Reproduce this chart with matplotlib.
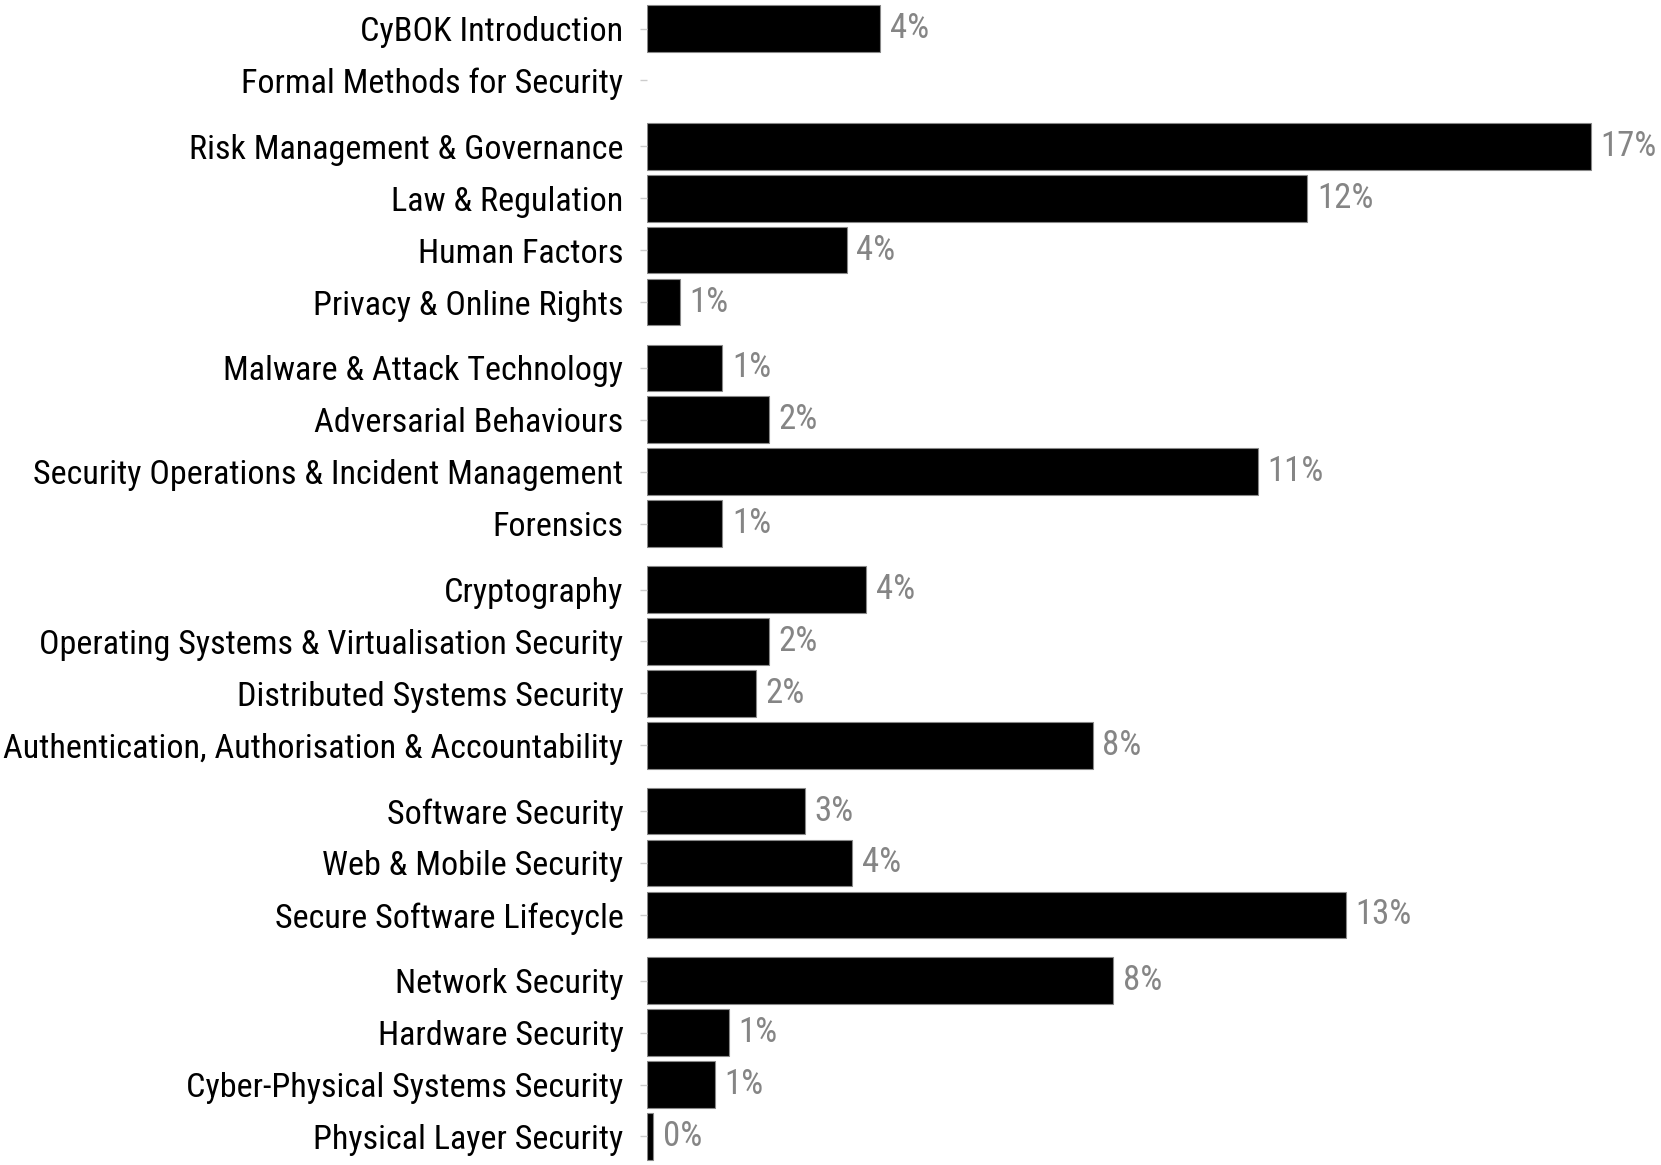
import numpy as np
import matplotlib
matplotlib.use("Agg")
import matplotlib.pyplot as plt

categories = ["CyBOK Introduction", "Formal Methods for Security",
              "Risk Management & Governance", "Law & Regulation", "Human Factors",
              "Privacy & Online Rights",
              "Malware & Attack Technology", "Adversarial Behaviours",
              "Security Operations & Incident Management", "Forensics",
              "Cryptography", "Operating Systems & Virtualisation Security",
              "Distributed Systems Security",
              "Authentication, Authorisation & Accountability",
              "Software Security", "Web & Mobile Security", "Secure Software Lifecycle",
              "Network Security", "Hardware Security", "Cyber-Physical Systems Security",
              "Physical Layer Security"]
groups = [0, 0, 1, 1, 1, 1, 2, 2, 2, 2, 3, 3, 3, 3, 4, 4, 4, 5, 5, 5, 5]
shares = [4.2, 0.0, 17.0, 11.9, 3.6, 0.6, 1.36, 2.2, 11.0, 1.36,
          3.95, 2.2, 1.97, 8.03, 2.84, 3.7, 12.6, 8.4, 1.47, 1.22, 0.11]

plt.rcParams['font.family'] = ['Roboto Condensed', 'DejaVu Sans']

fig = plt.figure(figsize=(16.61, 11.65), dpi=100)
ax = fig.add_axes([647 / 1661, 0.0, 1 - 647 / 1661, 1.0])

# row positions: unit spacing inside a group, extra gap between groups
gap = 0.27
ypos = np.array([i + g * gap for i, g in enumerate(groups)])

edges = ["#888888" if v > 0 else "none" for v in shares]
ax.barh(ypos, shares, height=0.9, color="black", edgecolor=edges, linewidth=0.8)
for y, v in zip(ypos, shares):
    if v == 0:
        continue
    ax.text(v + 0.17, y, f"{round(v):.0f}%", va="center", ha="left",
            color="#858585", fontsize=25)

ax.set_yticks(ypos)
ax.set_yticklabels(categories, fontsize=24.6)
ax.tick_params(axis="y", length=5, color="#cccccc", pad=12, width=1)
ax.set_xticks([])
ax.set_xlim(0, 18.27)
ax.set_ylim(ypos[-1] + 0.55, ypos[0] - 0.55)
for s in ax.spines.values():
    s.set_visible(False)

fig.savefig("out.png", dpi=100)
